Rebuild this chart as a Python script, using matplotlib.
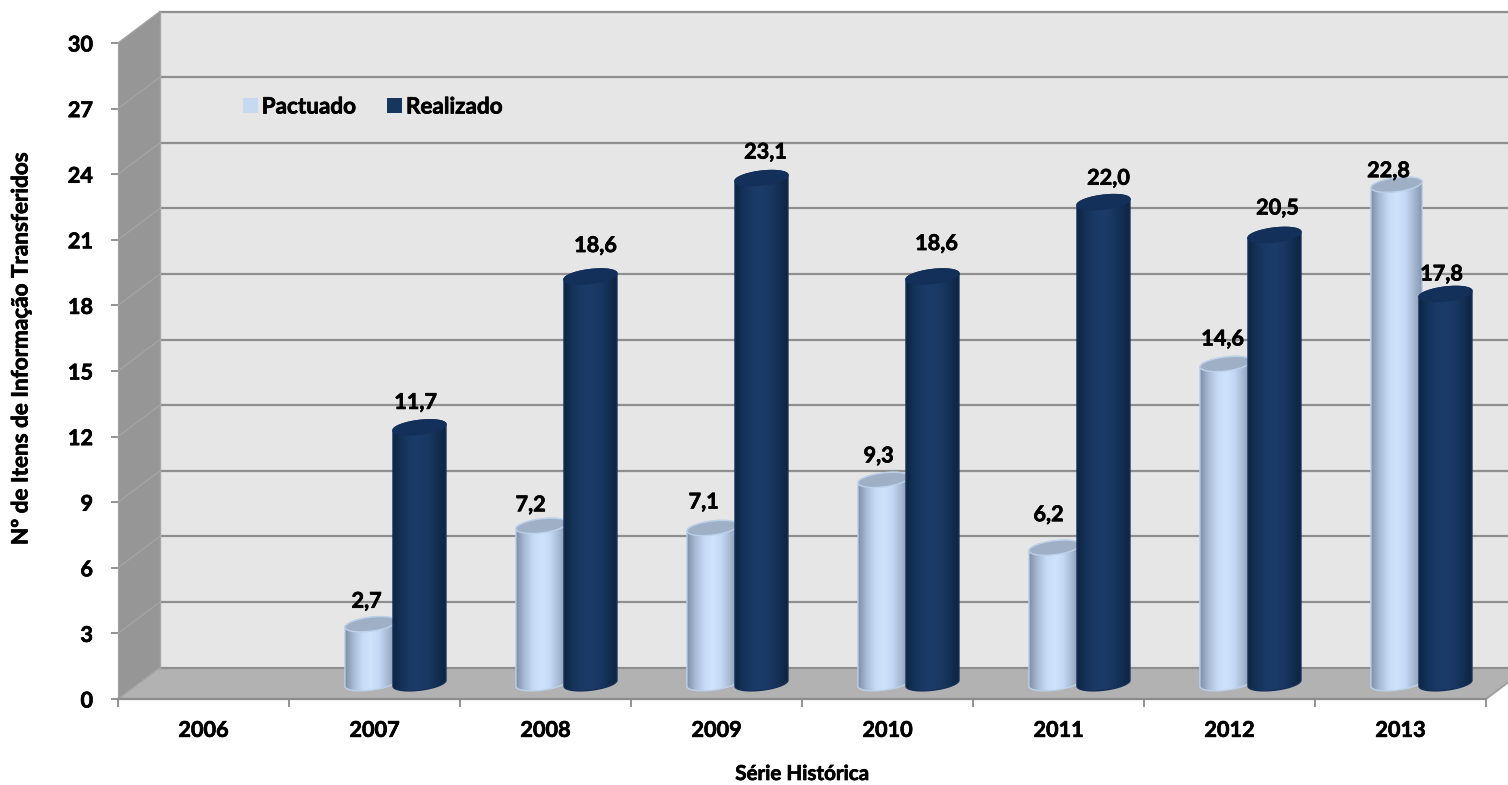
import numpy as np
import matplotlib
matplotlib.use('Agg')
import matplotlib.pyplot as plt
import matplotlib.patheffects as pe
from matplotlib.colors import LinearSegmentedColormap
from matplotlib.patches import Patch, PathPatch, Polygon
from matplotlib.path import Path

# valores
anos = ['2006', '2007', '2008', '2009', '2010', '2011', '2012', '2013']
pactuado = [None, 2.7, 7.2, 7.1, 9.3, 6.2, 14.6, 22.8]
realizado = [None, 11.7, 18.6, 23.1, 18.6, 22.0, 20.5, 17.8]
eixo_y = [0, 3, 6, 9, 12, 15, 18, 21, 24, 27, 30]

# ajuste dos rotulos em pixels (dx, dy)
ajuste_pact = [None, (-4, 23), (-11, 21), (-9, 26), (-5, 24), (-6, 33), (-3, 25), (-8, 14)]
ajuste_real = [None, (-4, 25), (5, 31), (4, 26), (4, 33), (5, 24), (3, 27), (-4, 20)]

plt.rcParams['font.family'] = ['Lato', 'DejaVu Sans']
plt.rcParams['font.weight'] = 'bold'
FONTE = 15.6
NEGRITO = [pe.withStroke(linewidth=0.5, foreground='black')]

L, R, T, B = 118, 1486, 43, 699
W, H = 1508, 785
fig = plt.figure(figsize=(W / 100, H / 100), dpi=100, facecolor='white')
ax = fig.add_axes([L / W, 1 - B / H, (R - L) / W, (B - T) / H])
ax.set_facecolor('none')
ax.set_xlim(0, 8)
ax.set_ylim(0, 30)
ax.set_autoscale_on(False)

px_x = 8 / (R - L)
px_y = 30 / (B - T)
PROF_X = 42 * px_x
PROF_Y = 31.5 * px_y

# paredes do grafico 3D
ax.add_patch(Polygon([(PROF_X, PROF_Y), (8.4, PROF_Y), (8.4, 30 + PROF_Y), (PROF_X, 30 + PROF_Y)],
                     fc='#e6e6e6', ec='none', zorder=1, clip_on=False))
ax.add_patch(Polygon([(0, 0), (PROF_X, PROF_Y), (PROF_X, 30 + PROF_Y), (0, 30)],
                     fc='#969696', ec='none', zorder=1, clip_on=False))
ax.add_patch(Polygon([(0, 0), (PROF_X, PROF_Y), (8 + PROF_X, PROF_Y), (8, 0)],
                     fc='#b2b2b2', ec='none', zorder=1.5, clip_on=False))
for v in eixo_y:
    ax.plot([PROF_X, 8.4], [v + PROF_Y, v + PROF_Y], color='#8f8f8f', lw=1.6, zorder=2, clip_on=False)
    ax.plot([0, PROF_X], [v, v + PROF_Y], color='#a3a3a3', lw=1.0, zorder=2, clip_on=False)
ax.plot([PROF_X, PROF_X], [PROF_Y, 30 + PROF_Y], color='#a8a8a8', lw=1.0, zorder=2, clip_on=False)
ax.plot([8, 8 + PROF_X], [0, PROF_Y], color='#a0a0a0', lw=1.4, zorder=2, clip_on=False)

cor_pact = LinearSegmentedColormap.from_list('pact', ['#7f8fa8', '#a9bcd6', '#c6daf5', '#d0e3fd', '#c4d8f3', '#a6b8d2', '#8293ab'])
cor_real = LinearSegmentedColormap.from_list('real', ['#0e2542', '#15335a', '#1a3a66', '#1b3c69', '#193761', '#132e52', '#0d2340'])
degrade = np.linspace(0, 1, 128).reshape(1, -1)


def cilindro(x0, larg, valor, cmap, topo, borda, z):
    cx = x0 + larg / 2
    base = PROF_Y / 2
    alto = base + valor
    a = larg / 2
    b = 7 * px_y
    incl = 3 * px_y
    t = np.linspace(np.pi, 2 * np.pi, 40)
    fundo = np.column_stack([cx + a * np.cos(t), base + b * np.sin(t) + incl * np.cos(t)])
    t2 = np.linspace(0, np.pi, 40)
    cima = np.column_stack([cx + a * np.cos(t2), alto + b * np.sin(t2) + incl * np.cos(t2)])
    contorno = np.vstack([fundo, cima, fundo[:1]])
    corpo = PathPatch(Path(contorno), fc='none', ec=borda, lw=1.0, zorder=z + 0.2, clip_on=False)
    ax.add_patch(corpo)
    img = ax.imshow(degrade, cmap=cmap, extent=[x0, x0 + larg, base - b * 1.2, alto + b * 1.2],
                    aspect='auto', zorder=z, interpolation='bilinear')
    img.set_clip_path(Path(contorno), ax.transData)
    t3 = np.linspace(0, 2 * np.pi, 80)
    tampa = np.column_stack([cx + a * np.cos(t3), alto + b * np.sin(t3) + incl * np.cos(t3)])
    ax.add_patch(Polygon(tampa, fc=topo, ec=borda, lw=1.0, zorder=z + 0.3, clip_on=False))


POS_PACT = 0.327
LARG_PACT = 0.30
POS_REAL = 0.608
LARG_REAL = 0.31

for i, ano in enumerate(anos):
    if pactuado[i] is None:
        continue
    z = 3 + i
    cilindro(i + POS_PACT, LARG_PACT, pactuado[i], cor_pact, '#9fb0c6', '#bcd0ea', z)
    cilindro(i + POS_REAL, LARG_REAL, realizado[i], cor_real, '#12305a', '#14305a', z + 0.5)
    ax.annotate(f'{pactuado[i]:.1f}'.replace('.', ','),
                (i + POS_PACT + LARG_PACT / 2, pactuado[i] + PROF_Y / 2),
                xytext=ajuste_pact[i], textcoords='offset pixels',
                ha='center', va='center', fontsize=FONTE, color='black', zorder=20, path_effects=NEGRITO)
    ax.annotate(f'{realizado[i]:.1f}'.replace('.', ','),
                (i + POS_REAL + LARG_REAL / 2, realizado[i] + PROF_Y / 2),
                xytext=ajuste_real[i], textcoords='offset pixels',
                ha='center', va='center', fontsize=FONTE, color='black', zorder=20, path_effects=NEGRITO)

# eixos
for lado in ['top', 'right']:
    ax.spines[lado].set_visible(False)
ax.spines['left'].set_color('#a0a0a0')
ax.spines['bottom'].set_color('#8c8c8c')
ax.spines['bottom'].set_linewidth(1.6)
ax.spines['left'].set_zorder(2.5)
ax.spines['bottom'].set_zorder(2.5)
ax.set_yticks(eixo_y)
ax.set_yticklabels([str(v) for v in eixo_y], fontsize=FONTE, path_effects=NEGRITO)
ax.tick_params(axis='y', length=5, width=1.2, color='#808080', pad=13)
ax.set_xticks(range(9))
ax.set_xticklabels([])
ax.set_xticks(np.arange(8) + 0.5, minor=True)
ax.set_xticklabels(anos, minor=True, fontsize=FONTE, path_effects=NEGRITO)
ax.tick_params(axis='x', which='major', length=6, width=1.2, color='#808080')
ax.tick_params(axis='x', which='minor', length=0, pad=15)

fig.text(802 / W, 1 - 774 / H, 'Série Histórica', ha='center', va='center', fontsize=14.8,
         color='black', path_effects=NEGRITO)
fig.text(21 / W, 1 - 349 / H, 'Nº de Itens de Informação Transferidos', rotation=90,
         ha='center', va='center', fontsize=16.2, color='black', path_effects=NEGRITO)

leg = ax.legend(handles=[Patch(fc='#c6d9f1', ec='none', label='Pactuado'),
                         Patch(fc='#17365d', ec='none', label='Realizado')],
                ncol=2, frameon=False, loc='center left',
                bbox_to_anchor=((243 - L) / (R - L), (B - 107) / (B - T)),
                fontsize=16.2, handlelength=0.65, handleheight=0.65,
                handletextpad=0.18, columnspacing=1.4, borderpad=0, borderaxespad=0)
leg.set_zorder(30)
for txt in leg.get_texts():
    txt.set_path_effects(NEGRITO)

fig.savefig('out.png', dpi=100, facecolor='white')
